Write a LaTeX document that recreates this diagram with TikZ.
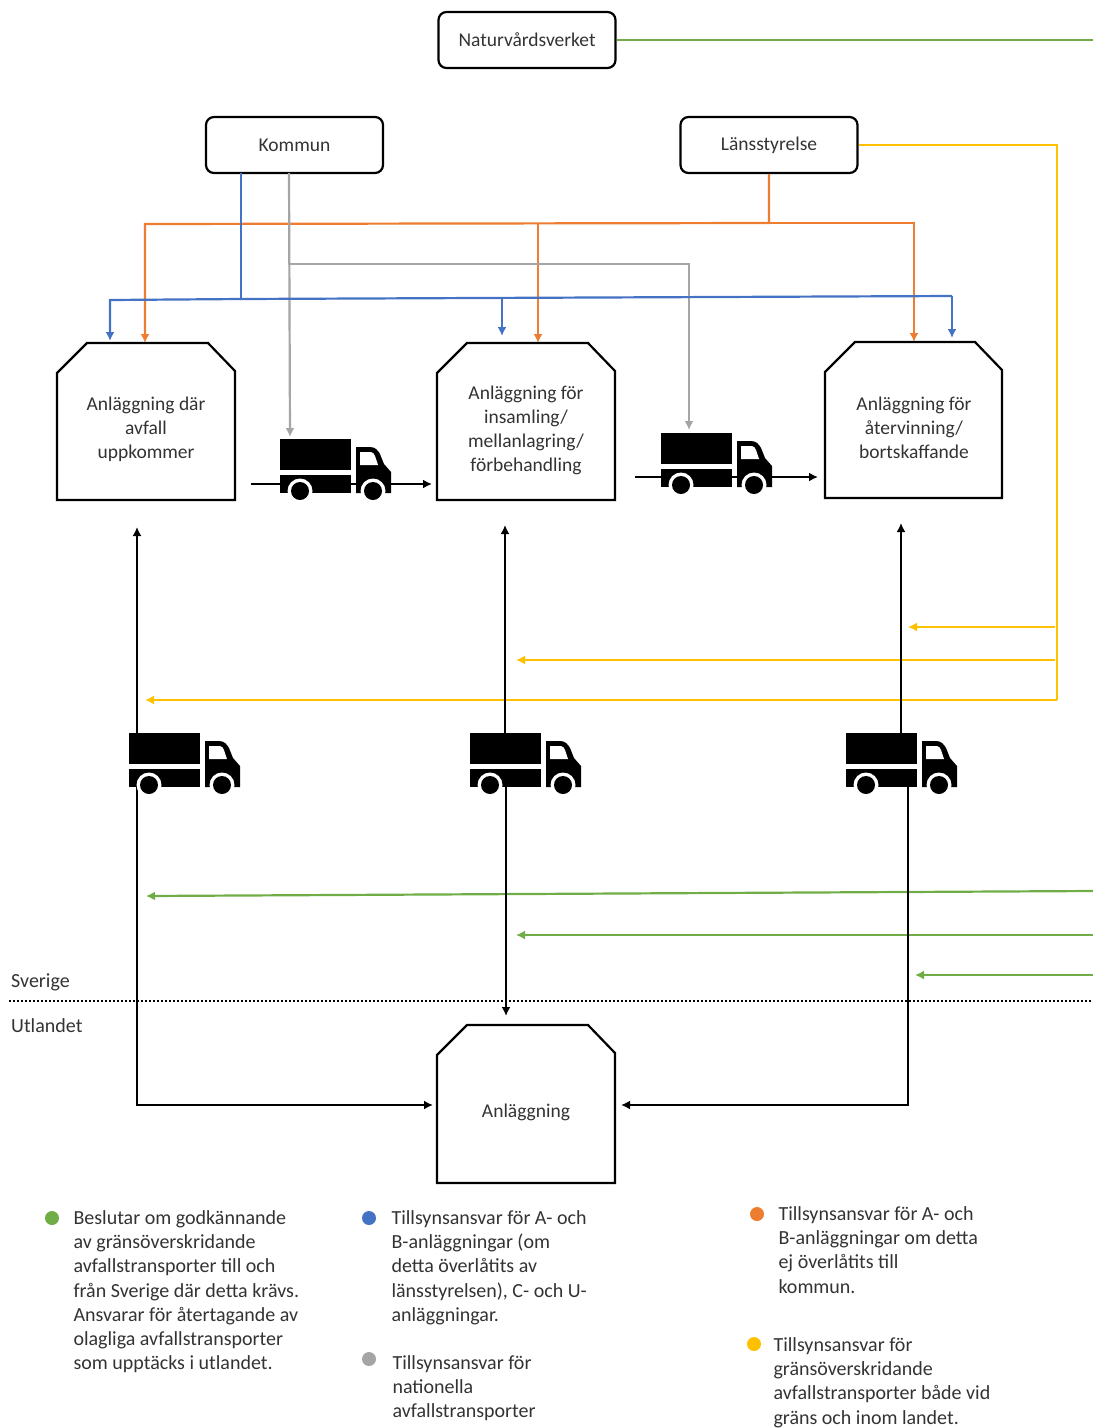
\documentclass[tikz,border=0pt]{standalone}
\usepackage{fontspec}
\setmainfont{Carlito}
\usetikzlibrary{arrows.meta}
\definecolor{cgreen}{HTML}{70AD47}
\definecolor{cblue}{HTML}{4472C4}
\definecolor{corange}{HTML}{ED7D31}
\definecolor{cgray}{HTML}{A5A5A5}
\definecolor{cyellow}{HTML}{FFC000}
\tikzset{x=1pt,y=-1pt,
 rbox/.style={draw=black,line width=2.2pt,rounded corners=8pt,align=center,font=\fontsize{19.5}{24}\selectfont,minimum width=177pt,minimum height=56pt,text=black!80},
 lab/.style={align=center,font=\fontsize{19.5}{24}\selectfont,text=black!80},
 leg/.style={align=left,anchor=north west,font=\fontsize{20}{24.2}\selectfont,text=black!80},
 tag/.style={anchor=west,font=\fontsize{20}{24}\selectfont,text=black!80,inner sep=0pt},
 ln/.style={line width=2.2pt,-{Latex[length=9pt,width=9pt]}},
 blk/.style={line width=2pt,black,-{Latex[length=9pt,width=9pt]}},
 dot/.style={circle,inner sep=0pt,minimum size=14pt},
 plant/.style={draw=black,line width=2.2pt,fill=white}}
\newcommand{\plantbox}[5]{%
 \path[plant] (#2,#5) -- (#2,#3+30) -- (#2+30,#3) -- (#4-27,#3) -- (#4,#3+28) -- (#4,#5) -- cycle;
 \coordinate (#1) at ({(#2+#4)/2},{(#3+#5)/2});}
\newcommand{\truck}[2]{%
 \begin{scope}[shift={(#1,#2)}]
 \fill[black] (0,0) rectangle (71,54);
 \fill[white] (0,31) rectangle (71,36);
 \fill[black] (76,8) -- (90,8) .. controls (96,8) and (98,12) .. (100,15) -- (104,25) -- (111,33) -- (111,54) -- (76,54) -- cycle;
 \fill[white] (80,13) -- (91,13) .. controls (93,13) and (94,15) .. (95,17) -- (98,26) -- (80,26) -- cycle;
 \fill[white] (20,52) circle (12.5); \fill[black] (20,52) circle (9);
 \fill[white] (93,52) circle (12.5); \fill[black] (93,52) circle (9);
 \end{scope}}
\begin{document}
\begin{tikzpicture}
\useasboundingbox (0,0) rectangle (1093,1428);
\draw[line width=2pt,dotted] (9,1001) -- (1093,1001);
\node[tag] (sv) at (11,982) {Sverige};
\node[tag] (ut) at (11,1026) {Utlandet};
\node[rbox] (nv) at (527,40) {\raisebox{-1pt}{Naturvårdsverket}};
\node[rbox] (ko) at (294.5,145) {Kommun};
\node[rbox] (ls) at (769,145) {Länsstyrelse};
\coordinate (nvE) at (1093,40);
\draw[line width=2.2pt,cgreen] (nv.east) -- (nvE);
\coordinate (a) at (145,343); \coordinate (b) at (538,343); \coordinate (c) at (914,342);
\draw[ln,corange] (ls.south) -- (769,223) -- (145,224) -- (a);
\draw[ln,corange] (538,224) -- (b);
\draw[ln,corange] (769,223) -- (914,223) -- (c);
\draw[ln,cgray] (289,173) -- (290,437);
\draw[ln,cgray] (289,264) -- (689,264) -- (689,430);
\draw[line width=2.2pt,cblue] (241,173) -- (241,299);
\draw[ln,cblue] (241,299) -- (110,300) -- (110,341);
\draw[line width=2.2pt,cblue] (241,299) -- (952,296);
\draw[ln,cblue] (952,296) -- (952,338);
\draw[ln,cblue] (502,297) -- (502,336);
\draw[line width=2.2pt,cyellow] (ls.east) -- (1057,145) -- (1057,700);
\draw[ln,cyellow] (1057,700) -- (145,700);
\draw[ln,cyellow] (1055,660) -- (516,660);
\draw[ln,cyellow] (1055,627) -- (908,627);
\draw[ln,cgreen] (1093,891) -- (146,896);
\draw[ln,cgreen] (1093,935) -- (516,935);
\draw[ln,cgreen] (1093,975) -- (915,975);
\plantbox{pa}{57}{343}{235}{500}
\plantbox{pb}{437}{343}{615}{500}
\plantbox{pc}{825}{342}{1002}{498}
\plantbox{pd}{437}{1025}{615}{1183}
\node[lab] (la) at (146,429) {Anläggning där\\avfall\\uppkommer};
\node[lab] (lb) at (526,430) {Anläggning för\\insamling/\\mellanlagring/\\förbehandling};
\node[lab] (lc) at (914,428) {Anläggning för\\återvinning/\\bortskaffande};
\node[lab] (ld) at (526,1112) {Anläggning};
\draw[blk] (251,484) -- (432,484);
\draw[blk] (635,477) -- (818,477);
\draw[blk] (137,760) -- (137,527);
\draw[blk] (505,760) -- (505,525);
\draw[blk] (901,760) -- (901,523);
\draw[blk] (137,760) -- (137,1105) -- (433,1105);
\draw[blk] (506,760) -- (506,1016);
\draw[blk] (908,760) -- (908,1105) -- (621,1105);
\truck{280}{439}
\truck{661}{433}
\truck{129}{733}
\truck{470}{733}
\truck{846}{733}
\node[dot,fill=cgreen] (d1) at (52,1218) {};
\node[leg] (t1) at (70,1207) {Beslutar om godkännande\\av gränsöverskridande\\avfallstransporter till och\\från Sverige där detta krävs.\\Ansvarar för återtagande av\\olagliga avfallstransporter\\som upptäcks i utlandet.};
\node[dot,fill=cblue] (d2) at (369,1218) {};
\node[leg] (t2) at (388,1207) {Tillsynsansvar för A- och\\B-anläggningar (om\\detta överlåtits av\\länsstyrelsen), C- och U-\\anläggningar.};
\node[dot,fill=cgray] (d3) at (369,1359) {};
\node[leg] (t3) at (389,1352) {Tillsynsansvar för\\nationella\\avfallstransporter};
\node[dot,fill=corange] (d4) at (757,1214) {};
\node[leg] (t4) at (775,1203) {Tillsynsansvar för A- och\\B-anläggningar om detta\\ej överlåtits till\\kommun.};
\node[dot,fill=cyellow] (d5) at (754,1344) {};
\node[leg] (t5) at (770,1334) {Tillsynsansvar för\\gränsöverskridande\\avfallstransporter både vid\\gräns och inom landet.};
\end{tikzpicture}
\end{document}
